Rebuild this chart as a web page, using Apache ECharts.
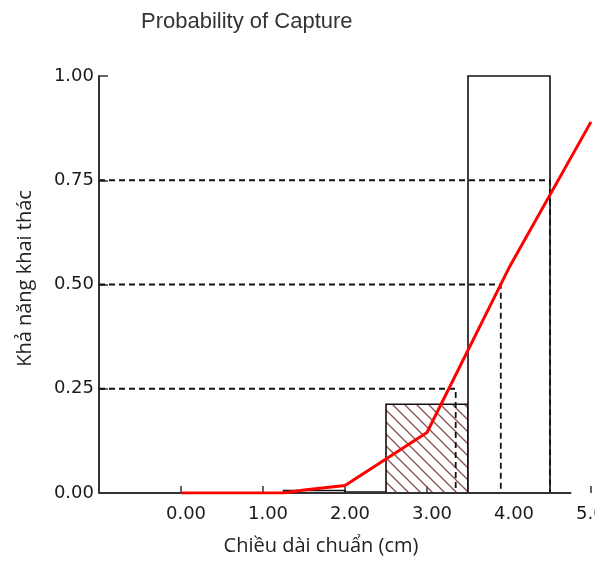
<!DOCTYPE html>
<html>
<head>
<meta charset="utf-8">
<script src="https://cdn.jsdelivr.net/npm/echarts@6/dist/echarts.min.js"></script>
<style>
  html, body { margin: 0; padding: 0; background: #fff; }
  #chart { width: 595px; height: 561px; }
</style>
</head>
<body>
<div id="chart"></div>
<script>
// histogram bins (cm) and their heights
const binStart = [1.25, 2.0, 2.5, 3.5];
const binEnd = [2.0, 2.5, 3.5, 4.5];
const binValue = [0.006, 0.002, 0.213, 1.0];
const hatchedBin = 2;

// capture probability curve
const curveX = [0, 1, 1.25, 1.5, 2, 3, 4, 5];
const curveY = [0, 0, 0, 0.007, 0.018, 0.145, 0.54, 0.89];

// L25 / L50 / L75 guides
const levels = [0.25, 0.5, 0.75];
const levelLength = [3.35, 3.9, 4.5];

const yTicks = [0, 0.25, 0.5, 0.75, 1];
const xMin = -1, xMax = 5, xAxisEnd = 4.76;

// hatch pattern
const pat = document.createElement("canvas");
pat.width = 12; pat.height = 12;
const ctx = pat.getContext("2d");
ctx.strokeStyle = "#8a5252";
ctx.lineWidth = 1.3;
[[-14, -2, 2, 14], [-2, -2, 14, 14], [10, -2, 26, 14]].forEach((l) => {
  ctx.beginPath();
  ctx.moveTo(l[0], l[1]);
  ctx.lineTo(l[2], l[3]);
  ctx.stroke();
});

var myChart = echarts.init(document.getElementById("chart"));

var guideSeries = levels.map((lv, i) => ({
  type: "line",
  data: [[xMin, lv], [levelLength[i], lv], [levelLength[i], 0]],
  showSymbol: false,
  silent: true,
  z: 3,
  lineStyle: { color: "#111", width: 1.8, type: [6, 4] },
}));

var option = {
  animation: false,
  title: {
    text: "Probability of Capture",
    left: 136,
    top: 6,
    textStyle: {
      fontFamily: "Liberation Sans",
      fontSize: 22,
      fontWeight: "normal",
      color: "#333",
    },
  },
  grid: { left: 99, right: 4, top: 76, bottom: 68, outerBoundsMode: "none" },
  xAxis: {
    type: "value",
    min: xMin,
    max: xMax,
    interval: 1,
    name: "Chiều dài chuẩn (cm)",
    nameLocation: "middle",
    nameGap: 43,
    nameTextStyle: {
      fontFamily: "Open Sans",
      fontSize: 20,
      color: "#222",
      padding: [0, 48, 0, 0],
    },
    axisLine: { show: false },
    axisTick: { show: true, inside: true, length: 7, lineStyle: { color: "#333", width: 1.5 } },
    axisLabel: {
      margin: 12,
      fontFamily: "DejaVu Sans",
      fontSize: 18,
      color: "#1a1a1a",
      padding: [0, 0, 0, 10],
      formatter: (v) => (v < 0 ? "" : v.toFixed(2)),
    },
    splitLine: { show: false },
  },
  yAxis: {
    type: "value",
    min: 0,
    max: 1,
    interval: 0.25,
    name: "Khả năng khai thác",
    nameLocation: "middle",
    nameGap: 64,
    nameRotate: 90,
    nameTextStyle: { fontFamily: "Open Sans", fontSize: 20, color: "#222", padding: [0, 0, 0, 12] },
    axisLine: { show: true, onZero: false, lineStyle: { color: "#333", width: 2 } },
    axisTick: { show: true, inside: true, length: 9, lineStyle: { color: "#333", width: 1.5 } },
    axisLabel: {
      margin: 5,
      fontFamily: "DejaVu Sans",
      fontSize: 18,
      color: "#1a1a1a",
      formatter: (v) => (yTicks.includes(v) ? v.toFixed(2) : ""),
    },
    splitLine: { show: false },
  },
  series: [
    {
      type: "custom",
      z: 1,
      data: binStart.map((s, i) => [s, binEnd[i], binValue[i], i === hatchedBin ? 1 : 0]),
      encode: { x: [0, 1], y: 2 },
      renderItem: function (params, api) {
        var p0 = api.coord([api.value(0), api.value(2)]);
        var p1 = api.coord([api.value(1), 0]);
        return {
          type: "rect",
          shape: { x: p0[0], y: p0[1], width: p1[0] - p0[0], height: p1[1] - p0[1] },
          style: {
            fill: api.value(3) ? { image: pat, repeat: "repeat" } : "#fff",
            stroke: "#111",
            lineWidth: 1.6,
          },
        };
      },
      markLine: {
        silent: true,
        symbol: "none",
        label: { show: false },
        lineStyle: { color: "#333", width: 2, type: "solid" },
        data: [[{ coord: [xMin, 0] }, { coord: [xAxisEnd, 0] }]],
      },
    },
    ...guideSeries,
    {
      type: "line",
      data: curveX.map((x, i) => [x, curveY[i]]),
      showSymbol: false,
      z: 5,
      lineStyle: { color: "#ff0000", width: 3 },
    },
  ],
};

myChart.setOption(option);
</script>
</body>
</html>
